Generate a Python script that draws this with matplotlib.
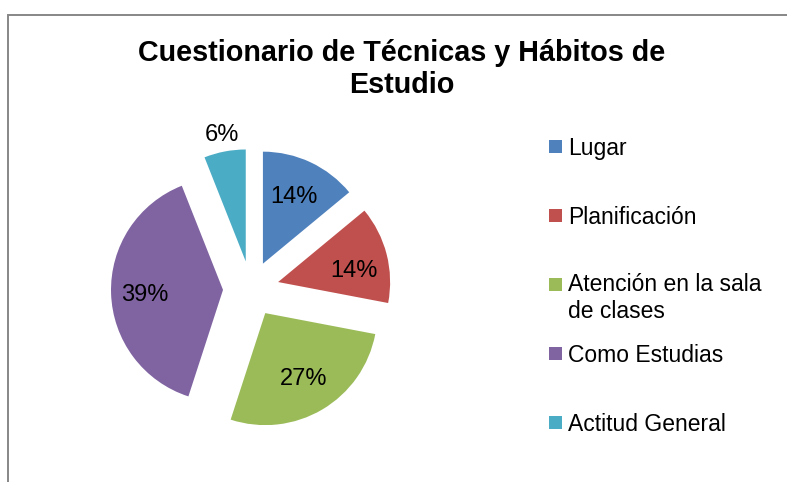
import numpy as np
import matplotlib
matplotlib.use("Agg")
import matplotlib.pyplot as plt
from matplotlib.patches import Rectangle

plt.rcParams['font.family'] = ['Liberation Sans', 'DejaVu Sans']

TITLE = "Cuestionario de Técnicas y Hábitos de\nEstudio"
CATEGORIES = ["Lugar", "Planificación", "Atención en la sala\nde clases",
              "Como Estudias", "Actitud General"]
PERCENTS = [14, 14, 27, 39, 6]
COLORS = ["#4F81BD", "#C0504D", "#9BBB59", "#8064A2", "#4BACC6"]

# where each % label sits: distance from its exploded wedge centre (radii), angle nudge (deg)
LABEL_DIST = [0.66, 0.68, 0.68, 0.70, 1.15]
LABEL_NUDGE = [0, -6, 0, 2, 0]

W, H = 787, 482
fig = plt.figure(figsize=(W / 100, H / 100), dpi=100)

# chart-area frame (only top and left visible in the crop)
fig.add_artist(Rectangle((8 / W, -0.2), 1.2, (H - 15) / H + 0.2, transform=fig.transFigure,
                         fill=False, edgecolor="#878787", linewidth=1.4))

# va=baseline -> baseline of the last line
fig.text(402 / W, 1 - 93 / H, TITLE, ha="center", va="baseline", fontsize=20.7,
         fontweight="bold", linespacing=1.2)

# pie: centre at (251, 289) px, radius 112 px
cx, cy, r, s = 251, 289, 112, 180
ax = fig.add_axes([(cx - s) / W, (H - cy - s) / H, 2 * s / W, 2 * s / H])
wedges, _, autotexts = ax.pie(PERCENTS, colors=COLORS, startangle=90, counterclock=False,
                              explode=[0.25] * len(PERCENTS), autopct="%1.0f%%",
                              wedgeprops=dict(linewidth=0),
                              textprops=dict(fontsize=17, color="black"))
for w, t, d, nd in zip(wedges, autotexts, LABEL_DIST, LABEL_NUDGE):
    ang = np.deg2rad((w.theta1 + w.theta2) / 2 + nd)
    x0, y0 = w.center
    t.set_position((x0 + d * np.cos(ang), y0 + d * np.sin(ang)))
    t.set_clip_on(False)
lim = s / r
ax.set_xlim(-lim, lim)
ax.set_ylim(-lim, lim)
ax.set_aspect("equal")
ax.axis("off")

# legend, entries every 69 px
for i, (lab, col) in enumerate(zip(CATEGORIES, COLORS)):
    base = 155 + 69 * i
    nlines = lab.count("\n") + 1
    fig.add_artist(Rectangle((549 / W, 1 - (base - 2) / H), 13 / W, 13 / H,
                             transform=fig.transFigure, facecolor=col, edgecolor="none"))
    fig.text(568 / W, 1 - (base + 25 * (nlines - 1)) / H, lab, ha="left", va="baseline",
             fontsize=16.5, linespacing=1.21)

fig.savefig("out.png", dpi=100)
